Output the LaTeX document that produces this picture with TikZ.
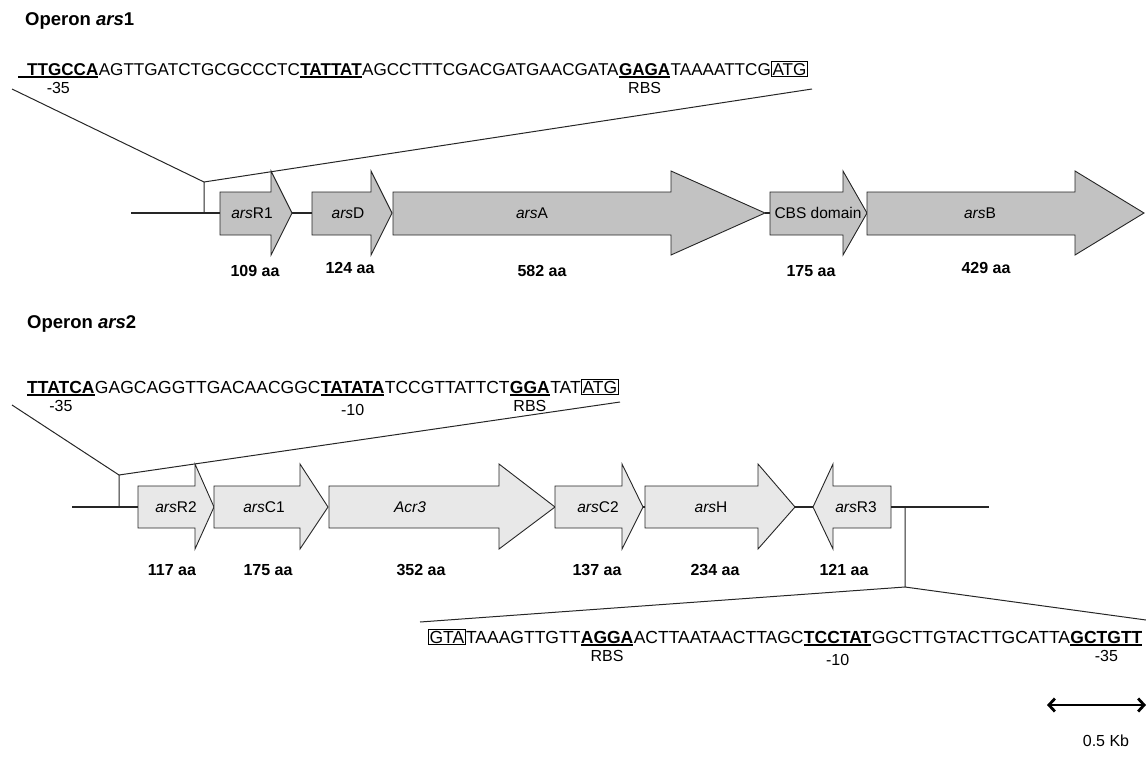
\documentclass[tikz,border=0pt]{standalone}
\usepackage{fontspec}
\setmainfont{Liberation Sans}
\usetikzlibrary{positioning,arrows.meta}

\definecolor{geneA}{gray}{0.76}
\definecolor{geneB}{gray}{0.91}
\newcommand\ul[1]{\setbox0\hbox{#1}\rlap{\rule[-2.6pt]{\wd0}{1.3pt}}\box0}

\begin{document}
\begin{tikzpicture}[x=1pt, y=-1pt,
    gene/.style={draw=black!85, line width=0.9pt},
    dna/.style={draw=black!85, line width=1.1pt},
    seq/.style={inner sep=0pt, font=\fontsize{17.5}{19}\selectfont},
    seqa/.style={seq, font=\fontsize{17.1}{19}\selectfont},
    boxed/.style={draw, line width=0.8pt, inner sep=1.2pt},
    tag/.style={inner sep=0pt, font=\fontsize{16}{18}\selectfont},
    glab/.style={inner sep=0pt, font=\fontsize{15.5}{18}\selectfont},
    aa/.style={inner sep=0pt, font=\fontsize{16}{18}\selectfont\bfseries},
    title/.style={inner sep=0pt, font=\fontsize{18.5}{21}\selectfont\bfseries}]
\useasboundingbox (0,0) rectangle (1146,766);

% operon ars1
\node[title, anchor=west] (t1) at (25,21) {Operon \textit{ars}1};
\node[seqa, anchor=base west] (a1) at (18,75) {\ul{\textbf{\hspace{9pt}TTGCCA}}};
\node[seqa, right=0pt of a1.base east, anchor=base west] (a2) {AGTTGATCTGCGCCCTC};
\node[seqa, right=0pt of a2.base east, anchor=base west] (a3) {\ul{\textbf{TATTAT}}};
\node[seqa, right=0pt of a3.base east, anchor=base west] (a4) {AGCCTTTCGACGATGAACGATA};
\node[seqa, right=0pt of a4.base east, anchor=base west] (a5) {\ul{\textbf{GAGA}}};
\node[seqa, right=0pt of a5.base east, anchor=base west] (a6) {TAAAATTCG};
\node[seqa, boxed, right=0pt of a6.base east, anchor=base west] (a7) {ATG};
\node[tag, below=4pt of a1] {-35};
\node[tag, below=4pt of a5] {RBS};

\foreach \s/\h/\t/\n in {220/271/292/r1, 312/371/392/d, 393/671/765/a, 770/843/867/cbs, 867/1075/1144/b}{
  \draw[gene, fill=geneA] (\s,192) -- (\h,192) -- (\h,171) -- (\t,213) -- (\h,255) -- (\h,235) -- (\s,235) -- cycle;
  \coordinate (\n-in) at (\s,213);
  \coordinate (\n-out) at (\t,213);
}
\coordinate (l1) at (131,213);
\draw[dna] (l1) -- (r1-in) (r1-out) -- (d-in) (a-out) -- (cbs-in);

\coordinate (k1) at (204,182);
\coordinate (k1b) at (204,213);
\coordinate (f1) at (12,89);
\coordinate (g1) at (812,89);
\draw[dna, line width=1pt] (f1) -- (k1) -- (g1) (k1) -- (k1b);

\node[glab] (n-r1) at (252,213) {\textit{ars}R1};
\node[glab] (n-d) at (348,213) {\textit{ars}D};
\node[glab] (n-a) at (532,213) {\textit{ars}A};
\node[glab] (n-cbs) at (818,213) {CBS domain};
\node[glab] (n-b) at (980,213) {\textit{ars}B};
\node[aa] at (255,271) {109 aa};
\node[aa] at (350,268) {124 aa};
\node[aa] at (542,271) {582 aa};
\node[aa] at (811,271) {175 aa};
\node[aa] at (986,268) {429 aa};

% operon ars2
\node[title, anchor=west] (t2) at (27,324) {Operon \textit{ars}2};
\node[seq, anchor=base west] (b1) at (27,393) {\ul{\textbf{TTATCA}}};
\node[seq, right=0pt of b1.base east, anchor=base west] (b2) {GAGCAGGTTGACAACGGC};
\node[seq, right=0pt of b2.base east, anchor=base west] (b3) {\ul{\textbf{TATATA}}};
\node[seq, right=0pt of b3.base east, anchor=base west] (b4) {TCCGTTATTCT};
\node[seq, right=0pt of b4.base east, anchor=base west] (b5) {\ul{\textbf{GGA}}};
\node[seq, right=0pt of b5.base east, anchor=base west] (b6) {TAT};
\node[seq, boxed, right=0pt of b6.base east, anchor=base west] (b7) {ATG};
\node[tag, below=4pt of b1] {-35};
\node[tag, below=8pt of b3] {-10};
\node[tag, below=4pt of b5] {RBS};

\foreach \s/\h/\t/\n in {138/195/214/r2, 214/300/328/c1, 329/499/555/acr, 555/622/643/c2, 645/758/795/h, 891/833/813/r3}{
  \draw[gene, fill=geneB] (\s,486) -- (\h,486) -- (\h,464) -- (\t,507) -- (\h,549) -- (\h,528) -- (\s,528) -- cycle;
  \coordinate (\n-in) at (\s,507);
  \coordinate (\n-out) at (\t,507);
}
\coordinate (l2) at (72,507);
\coordinate (e2) at (989,507);
\draw[dna] (l2) -- (r2-in) (c2-out) -- (h-in) (h-out) -- (r3-out) (r3-in) -- (e2);

\coordinate (k2) at (119,475);
\coordinate (k2b) at (119,507);
\coordinate (f2) at (12,405);
\coordinate (g2) at (620,402);
\draw[dna, line width=1pt] (f2) -- (k2) -- (g2) (k2) -- (k2b);

\coordinate (k3) at (905,587);
\coordinate (k3b) at (905,507);
\coordinate (f3) at (420,622);
\coordinate (g3) at (1146,620);
\draw[dna, line width=1pt] (f3) -- (k3) -- (g3) (k3) -- (k3b);

\node[glab] (n-r2) at (176,507) {\textit{ars}R2};
\node[glab] (n-c1) at (264,507) {\textit{ars}C1};
\node[glab] (n-acr) at (410,507) {\textit{Acr3}};
\node[glab] (n-c2) at (598,507) {\textit{ars}C2};
\node[glab] (n-h) at (711,507) {\textit{ars}H};
\node[glab] (n-r3) at (856,507) {\textit{ars}R3};
\node[aa] at (172,570) {117 aa};
\node[aa] at (268,570) {175 aa};
\node[aa] at (421,570) {352 aa};
\node[aa] at (597,570) {137 aa};
\node[aa] at (715,570) {234 aa};
\node[aa] at (844,570) {121 aa};

\node[seq, boxed, anchor=base west] (c1) at (428,643) {GTA};
\node[seq, right=0pt of c1.base east, anchor=base west] (c2) {TAAAGTTGTT};
\node[seq, right=0pt of c2.base east, anchor=base west] (c3) {\ul{\textbf{AGGA}}};
\node[seq, right=0pt of c3.base east, anchor=base west] (c4) {ACTTAATAACTTAGC};
\node[seq, right=0pt of c4.base east, anchor=base west] (c5) {\ul{\textbf{TCCTAT}}};
\node[seq, right=0pt of c5.base east, anchor=base west] (c6) {GGCTTGTACTTGCATTA};
\node[seq, right=0pt of c6.base east, anchor=base west] (c7) {\ul{\textbf{GCTGTT}}};
\node[tag, below=4pt of c3] {RBS};
\node[tag, below=8pt of c5] {-10};
\node[tag, below=4pt of c7] {-35};

% scale bar
\coordinate (sb1) at (1047,705);
\coordinate (sb2) at (1146,705);
\draw[{Straight Barb[length=6pt,width=13pt]}-{Straight Barb[length=6pt,width=13pt]}, line width=2.8pt] (sb1) -- (sb2);
\node[tag] (kb) at (1106,741) {0.5 Kb};
\end{tikzpicture}
\end{document}
